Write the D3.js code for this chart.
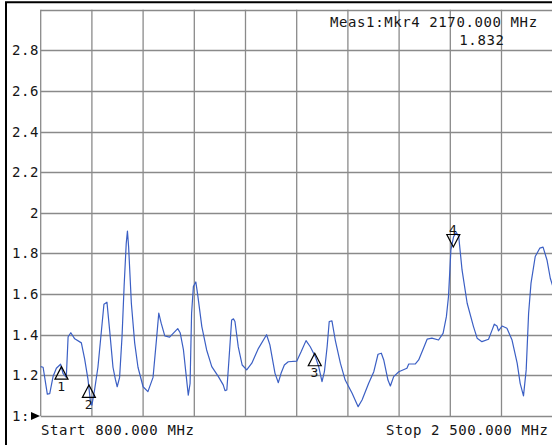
<!DOCTYPE html>
<html>
<head>
<meta charset="utf-8">
<script src="https://cdn.jsdelivr.net/npm/d3@7"></script>
<style>
  body { margin: 0; background: #fff; }
  text { font-family: "DejaVu Sans Mono", monospace; font-size: 14px; letter-spacing: 0.6px; fill: #151515; }
</style>
</head>
<body>
<svg id="chart" width="552" height="445"></svg>
<script>
// trace (MHz, SWR)
const freqs = [800, 808, 822, 830, 841, 852, 866, 874, 885, 891, 900, 913, 935, 946, 957, 966, 970, 979, 990,
  1001, 1010, 1020, 1029, 1040, 1048, 1054, 1062, 1070, 1077, 1084, 1088, 1092, 1101, 1112, 1123, 1140, 1156,
  1173, 1184, 1192, 1200, 1212, 1228, 1255, 1263, 1274, 1281, 1290, 1296, 1301, 1307, 1315, 1321, 1335, 1351,
  1368, 1390, 1406, 1412, 1418, 1425, 1434, 1440, 1445, 1456, 1469, 1484, 1501, 1523, 1550, 1561, 1578, 1589,
  1598, 1609, 1622, 1650, 1665, 1681, 1695, 1712, 1723, 1734, 1742, 1751, 1758, 1767, 1778, 1795, 1811, 1834,
  1854, 1867, 1889, 1906, 1920, 1931, 1939, 1953, 1961, 1972, 1989, 2016, 2022, 2044, 2055, 2072, 2083, 2099,
  2121, 2136, 2147, 2154, 2162, 2171, 2180, 2188, 2199, 2216, 2237, 2249, 2265, 2287, 2299, 2306, 2315, 2320,
  2332, 2348, 2365, 2382, 2392, 2403, 2412, 2420, 2428, 2442, 2457, 2468, 2481, 2492, 2500];
const swr = [1.243, 1.24, 1.108, 1.11, 1.194, 1.235, 1.255, 1.21, 1.19, 1.39, 1.41, 1.38, 1.36, 1.28, 1.18, 1.06, 1.054, 1.13, 1.24,
  1.41, 1.55, 1.56, 1.42, 1.24, 1.18, 1.144, 1.19, 1.39, 1.64, 1.85, 1.91, 1.83, 1.555, 1.36, 1.24, 1.144, 1.12,
  1.19, 1.37, 1.506, 1.457, 1.394, 1.388, 1.43, 1.41, 1.325, 1.227, 1.103, 1.16, 1.506, 1.637, 1.66, 1.60, 1.44, 1.325,
  1.243, 1.194, 1.153, 1.125, 1.128, 1.276, 1.473, 1.478, 1.465, 1.34, 1.251, 1.227, 1.26, 1.333, 1.40, 1.35, 1.21, 1.164,
  1.21, 1.251, 1.267, 1.27, 1.317, 1.371, 1.341, 1.292, 1.243, 1.169, 1.218, 1.341, 1.465, 1.468, 1.374, 1.26, 1.177, 1.112,
  1.046, 1.079, 1.161, 1.218, 1.304, 1.309, 1.276, 1.177, 1.148, 1.194, 1.218, 1.235, 1.256, 1.256, 1.276, 1.337, 1.378, 1.383,
  1.374, 1.407, 1.489, 1.588, 1.818, 1.883, 1.903, 1.883, 1.719, 1.555, 1.44, 1.383, 1.366, 1.378, 1.424, 1.452, 1.443, 1.419,
  1.443, 1.432, 1.374, 1.26, 1.161, 1.099, 1.227, 1.506, 1.654, 1.785, 1.826, 1.831, 1.768, 1.678, 1.64];

const markerFreqs = [869, 960, 1710, 2170];
const markerVals = [1.243, 1.153, 1.309, 1.832];
const markerNames = ["1", "2", "3", "4"];

const yTicks = [1, 1.2, 1.4, 1.6, 1.8, 2, 2.2, 2.4, 2.6, 2.8, 3];
const yLabels = ["1:", "1.2", "1.4", "1.6", "1.8", "2", "2.2", "2.4", "2.6", "2.8", ""];
const xTicks = d3.range(0, 11).map(i => 800 + i * 170);

const svg = d3.select("#chart");

const xScale = d3.scaleLinear().domain([800, 2500]).range([40.7, 552.7]);
const yScale = d3.scaleLinear().domain([1, 3]).range([416, 9.7]);

// outer frame (left + top)
svg.append("path")
    .attr("d", "M6,445 V2.3 H552")
    .attr("fill", "none")
    .attr("stroke", "#000")
    .attr("stroke-width", 2);

// grid
let grid = svg.append("g").classed("grid", true);
grid.selectAll("line.h")
    .data(yTicks)
    .enter()
    .append("line")
    .classed("h", true)
    .attr("x1", xScale(800))
    .attr("x2", xScale(2500))
    .attr("y1", d => Math.round(yScale(d)) + 0.5)
    .attr("y2", d => Math.round(yScale(d)) + 0.5)
    .attr("stroke", "#8a8a8a")
    .attr("stroke-width", 1.3);
grid.selectAll("line.v")
    .data(xTicks)
    .enter()
    .append("line")
    .classed("v", true)
    .attr("x1", d => xScale(d))
    .attr("x2", d => xScale(d))
    .attr("y1", yScale(3))
    .attr("y2", yScale(1))
    .attr("stroke", "#8a8a8a")
    .attr("stroke-width", 1.3);

// y labels
svg.append("g")
    .selectAll("text")
    .data(yTicks)
    .enter()
    .append("text")
    .attr("x", (d, i) => i === 0 ? 30 : 39)
    .attr("y", d => yScale(d) + 5)
    .attr("text-anchor", "end")
    .text((d, i) => yLabels[i]);

// reference position arrow
svg.append("path")
    .attr("d", `M31,${yScale(1) - 4} L40,${yScale(1)} L31,${yScale(1) + 4} Z`)
    .attr("fill", "#000");

// trace
const traceData = freqs.map((f, i) => [f, swr[i]]);
const line = d3.line()
    .x(d => xScale(d[0]))
    .y(d => yScale(d[1]));
svg.append("path")
    .datum(traceData)
    .attr("d", line)
    .attr("fill", "none")
    .attr("stroke", "#3b5fc4")
    .attr("stroke-width", 1.2)
    .attr("stroke-linejoin", "round");

// markers
let gMarkers = svg.append("g").classed("markers", true);
markerFreqs.forEach((f, i) => {
    const x = xScale(f);
    const y = yScale(markerVals[i]);
    const down = i === 3;
    const h = down ? -12.5 : 12.5;
    gMarkers.append("path")
        .attr("d", `M${x},${y} L${x - 6.5},${y + h} L${x + 6.5},${y + h} Z`)
        .attr("fill", "none")
        .attr("stroke", "#000")
        .attr("stroke-width", 1.2);
    gMarkers.append("text")
        .attr("x", x)
        .attr("y", down ? y - 13 : y + 24)
        .attr("text-anchor", "middle")
        .style("font-size", "13px")
        .text(markerNames[i]);
});

// annotations
svg.append("text")
    .attr("x", 330)
    .attr("y", 27)
    .text("Meas1:Mkr4 2170.000 MHz");
svg.append("text")
    .attr("x", 504.5)
    .attr("y", 44.5)
    .attr("text-anchor", "end")
    .text("1.832");
svg.append("text")
    .attr("x", 41)
    .attr("y", 435)
    .text("Start 800.000 MHz");
svg.append("text")
    .attr("x", 548.5)
    .attr("y", 435)
    .attr("text-anchor", "end")
    .text("Stop 2 500.000 MHz");
</script>
</body>
</html>
